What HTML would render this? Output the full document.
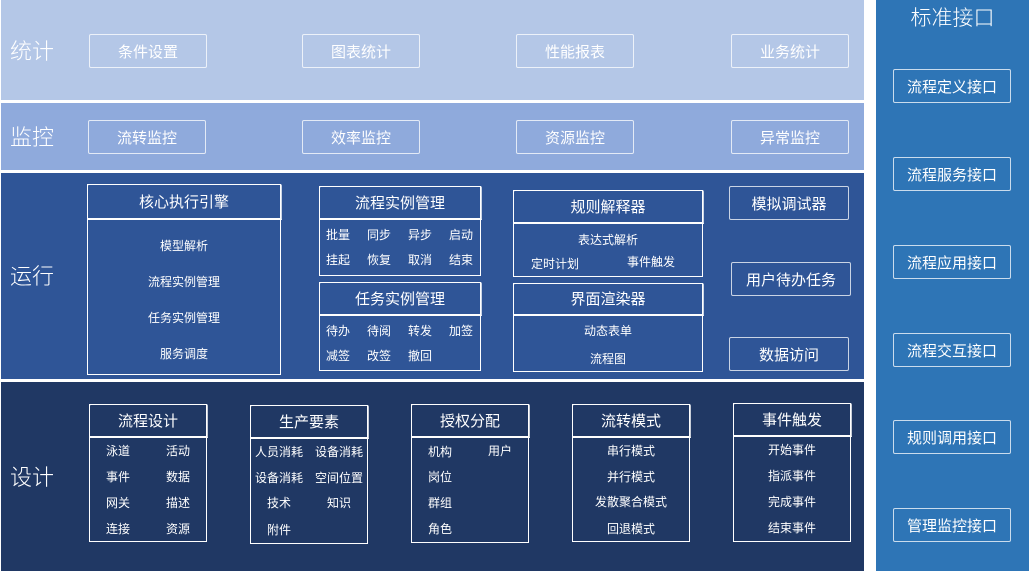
<!DOCTYPE html>
<html><head><meta charset="utf-8"><style>
*{margin:0;padding:0;box-sizing:border-box}
body{width:1029px;height:573px;background:#fff;position:relative;overflow:hidden;font-family:"Liberation Sans","Noto Sans CJK SC",sans-serif;color:#fff}
.a{position:absolute}
.band{position:absolute;left:1px;width:863px}
.lab{position:absolute;left:10px;font-size:22px;line-height:24px;font-weight:300}
.btn{position:absolute;border:1.5px solid rgba(255,255,255,.75);border-radius:2px;font-size:15px;display:flex;align-items:center;justify-content:center}
.box{position:absolute;border:1.5px solid #fff}
.hd{position:absolute;left:-1.5px;right:-1.5px;top:-1.5px;border:1.5px solid rgba(255,255,255,.75);border-bottom:2px solid #fff;border-radius:2px 2px 0 0;display:flex;align-items:center;justify-content:center;font-size:15px}
.t{position:absolute;font-size:12px;line-height:14px;white-space:nowrap;transform:translate(-50%,-50%)}
</style></head><body>
<div class="band" style="top:0;height:100px;background:#b4c7e7"></div>
<div class="band" style="top:103px;height:67px;background:#8faadc"></div>
<div class="band" style="top:173px;height:206px;background:#2f5597"></div>
<div class="band" style="top:382px;height:189px;background:#203864"></div>
<div class="a" style="left:876px;top:0;width:153px;height:571px;background:#2e75b6"></div>

<div class="lab" style="top:40px">统计</div>
<div class="lab" style="top:126px">监控</div>
<div class="lab" style="top:265px">运行</div>
<div class="lab" style="top:466px">设计</div>

<div class="btn" style="left:89px;top:34px;width:118px;height:34px">条件设置</div>
<div class="btn" style="left:302px;top:34px;width:118px;height:34px">图表统计</div>
<div class="btn" style="left:516px;top:34px;width:118px;height:34px">性能报表</div>
<div class="btn" style="left:731px;top:34px;width:118px;height:34px">业务统计</div>
<div class="btn" style="left:88px;top:120px;width:118px;height:34px">流转监控</div>
<div class="btn" style="left:302px;top:120px;width:118px;height:34px">效率监控</div>
<div class="btn" style="left:516px;top:120px;width:118px;height:34px">资源监控</div>
<div class="btn" style="left:731px;top:120px;width:118px;height:34px">异常监控</div>

<div class="box" style="left:87px;top:184px;width:194px;height:191px"><div class="hd" style="height:36px">核心执行引擎</div></div>
<div class="t" style="left:184px;top:246px">模型解析</div>
<div class="t" style="left:184px;top:282px">流程实例管理</div>
<div class="t" style="left:184px;top:318px">任务实例管理</div>
<div class="t" style="left:184px;top:354px">服务调度</div>

<div class="box" style="left:319px;top:186px;width:162px;height:90px"><div class="hd" style="height:34px">流程实例管理</div></div>
<div class="t" style="left:338px;top:235px">批量</div><div class="t" style="left:379px;top:235px">同步</div><div class="t" style="left:420px;top:235px">异步</div><div class="t" style="left:461px;top:235px">启动</div>
<div class="t" style="left:338px;top:260px">挂起</div><div class="t" style="left:379px;top:260px">恢复</div><div class="t" style="left:420px;top:260px">取消</div><div class="t" style="left:461px;top:260px">结束</div>

<div class="box" style="left:319px;top:282px;width:162px;height:89px"><div class="hd" style="height:34px">任务实例管理</div></div>
<div class="t" style="left:338px;top:331px">待办</div><div class="t" style="left:379px;top:331px">待阅</div><div class="t" style="left:420px;top:331px">转发</div><div class="t" style="left:461px;top:331px">加签</div>
<div class="t" style="left:338px;top:356px">减签</div><div class="t" style="left:379px;top:356px">改签</div><div class="t" style="left:420px;top:356px">撤回</div>

<div class="box" style="left:513px;top:190px;width:190px;height:87px"><div class="hd" style="height:34px">规则解释器</div></div>
<div class="t" style="left:608px;top:240px">表达式解析</div>
<div class="t" style="left:555px;top:264px">定时计划</div>
<div class="t" style="left:651px;top:262px">事件触发</div>

<div class="box" style="left:513px;top:283px;width:190px;height:89px"><div class="hd" style="height:33px">界面渲染器</div></div>
<div class="t" style="left:608px;top:331px">动态表单</div>
<div class="t" style="left:608px;top:359px">流程图</div>

<div class="btn" style="left:729px;top:186px;width:120px;height:34px">模拟调试器</div>
<div class="btn" style="left:731px;top:262px;width:120px;height:34px">用户待办任务</div>
<div class="btn" style="left:729px;top:337px;width:120px;height:34px">数据访问</div>

<div class="box" style="left:89px;top:404px;width:118px;height:138px"><div class="hd" style="height:34px">流程设计</div></div>
<div class="t" style="left:118px;top:451px">泳道</div><div class="t" style="left:178px;top:451px">活动</div>
<div class="t" style="left:118px;top:477px">事件</div><div class="t" style="left:178px;top:477px">数据</div>
<div class="t" style="left:118px;top:503px">网关</div><div class="t" style="left:178px;top:503px">描述</div>
<div class="t" style="left:118px;top:529px">连接</div><div class="t" style="left:178px;top:529px">资源</div>

<div class="box" style="left:250px;top:405px;width:118px;height:139px"><div class="hd" style="height:34px">生产要素</div></div>
<div class="t" style="left:279px;top:452px">人员消耗</div><div class="t" style="left:339px;top:452px">设备消耗</div>
<div class="t" style="left:279px;top:478px">设备消耗</div><div class="t" style="left:339px;top:478px">空间位置</div>
<div class="t" style="left:279px;top:503px">技术</div><div class="t" style="left:339px;top:503px">知识</div>
<div class="t" style="left:279px;top:530px">附件</div>

<div class="box" style="left:411px;top:404px;width:118px;height:139px"><div class="hd" style="height:34px">授权分配</div></div>
<div class="t" style="left:440px;top:452px">机构</div><div class="t" style="left:500px;top:451px">用户</div>
<div class="t" style="left:440px;top:477px">岗位</div>
<div class="t" style="left:440px;top:503px">群组</div>
<div class="t" style="left:440px;top:529px">角色</div>

<div class="box" style="left:572px;top:404px;width:118px;height:138px"><div class="hd" style="height:34px">流转模式</div></div>
<div class="t" style="left:631px;top:451px">串行模式</div>
<div class="t" style="left:631px;top:477px">并行模式</div>
<div class="t" style="left:631px;top:502px">发散聚合模式</div>
<div class="t" style="left:631px;top:529px">回退模式</div>

<div class="box" style="left:733px;top:403px;width:118px;height:139px"><div class="hd" style="height:34px">事件触发</div></div>
<div class="t" style="left:792px;top:450px">开始事件</div>
<div class="t" style="left:792px;top:476px">指派事件</div>
<div class="t" style="left:792px;top:502px">完成事件</div>
<div class="t" style="left:792px;top:528px">结束事件</div>

<div class="a" style="left:876px;top:6px;width:153px;text-align:center;font-size:21px;line-height:26px;font-weight:300">标准接口</div>
<div class="btn" style="left:893px;top:69px;width:118px;height:34px">流程定义接口</div>
<div class="btn" style="left:893px;top:157px;width:118px;height:34px">流程服务接口</div>
<div class="btn" style="left:893px;top:245px;width:118px;height:34px">流程应用接口</div>
<div class="btn" style="left:893px;top:333px;width:118px;height:34px">流程交互接口</div>
<div class="btn" style="left:893px;top:420px;width:118px;height:34px">规则调用接口</div>
<div class="btn" style="left:893px;top:508px;width:118px;height:34px">管理监控接口</div>
</body></html>
